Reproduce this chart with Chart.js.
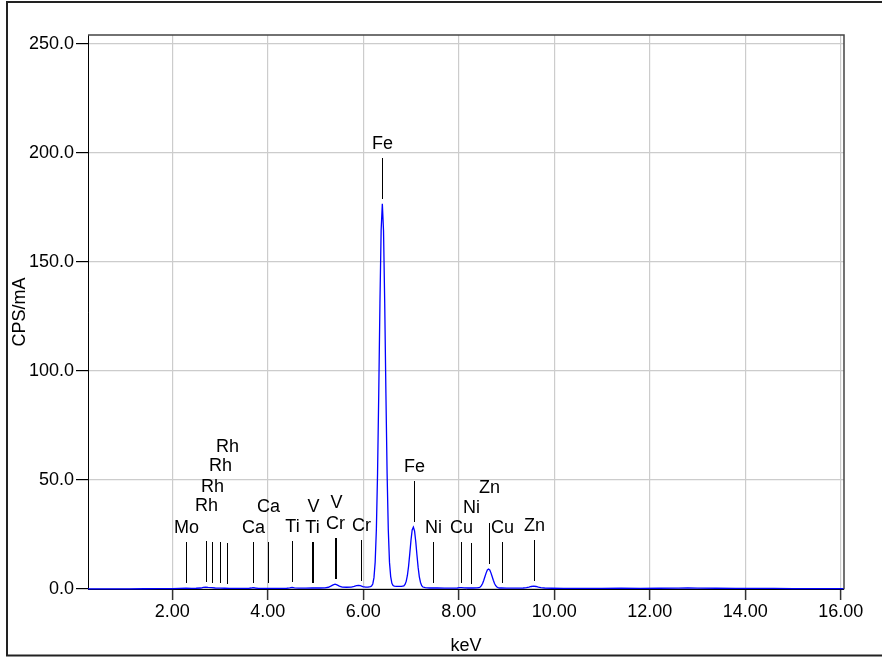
<!DOCTYPE html>
<html>
<head>
<meta charset="utf-8">
<script src="https://cdn.jsdelivr.net/npm/chart.js@4.4.1/dist/chart.umd.min.js"></script>
<style>
  html, body { margin: 0; padding: 0; background: #fff; }
  canvas { display: block; }
</style>
</head>
<body>
<canvas id="spectrum" width="882" height="657"></canvas>
<script>
// spectrum: energy (keV) and intensity (CPS/mA)
const energyKeV = [
  0.235, 0.5, 0.8, 1.1, 1.4, 1.7, 2.0, 2.15, 2.29, 2.4, 2.5,
  2.6, 2.65, 2.7, 2.75, 2.83, 2.9, 3.0, 3.1, 3.2, 3.35, 3.5,
  3.6, 3.65, 3.69, 3.74, 3.8, 4.01, 4.2, 4.4, 4.46, 4.51, 4.56, 4.65, 4.8, 4.93, 5.1, 5.2,
  5.27, 5.32, 5.37, 5.41, 5.45, 5.5, 5.56, 5.65, 5.75, 5.81, 5.86, 5.9, 5.94, 5.99, 6.05, 6.1, 6.15,
  6.175, 6.2, 6.225, 6.25, 6.275, 6.3, 6.325, 6.35, 6.375, 6.4, 6.425, 6.45, 6.475, 6.5, 6.525, 6.55, 6.575, 6.6, 6.625, 6.65,
  6.7, 6.75, 6.8, 6.85,
  6.875, 6.9, 6.925, 6.95, 6.975, 7.0, 7.025, 7.05, 7.075, 7.1, 7.125, 7.15, 7.175, 7.2, 7.225, 7.25, 7.3,
  7.4, 7.47, 7.55, 7.7, 7.85, 7.97, 8.02, 8.06, 8.11, 8.2, 8.3, 8.38,
  8.425, 8.45, 8.475, 8.5, 8.525, 8.55, 8.575, 8.6, 8.625, 8.65, 8.675, 8.7, 8.725, 8.75, 8.775, 8.8, 8.825, 8.85,
  8.9, 9.0, 9.2, 9.35, 9.42, 9.47, 9.52, 9.57, 9.62, 9.67, 9.72, 9.8, 9.95, 10.2,
  10.6, 11.0, 11.4, 11.8, 12.2, 12.6, 12.8, 13.0, 13.4, 13.8, 14.2, 14.6, 15.0, 15.5, 16.07
];
const cpsPerMa = [
  0.05, 0.08, 0.1, 0.1, 0.12, 0.15, 0.2, 0.25, 0.35, 0.3, 0.35,
  0.45, 0.7, 0.85, 0.7, 0.6, 0.45, 0.4, 0.35, 0.3, 0.3, 0.3,
  0.3, 0.45, 0.6, 0.45, 0.3, 0.3, 0.3, 0.35, 0.5, 0.7, 0.5, 0.4, 0.4, 0.45, 0.45, 0.55,
  0.8, 1.3, 1.9, 2.2, 1.9, 1.3, 0.9, 0.8, 0.9, 1.2, 1.5, 1.6, 1.5, 1.1, 0.9, 0.9, 1.1,
  1.4, 2.3, 5.2, 12.3, 27.2, 53.1, 89.8, 131.1, 164.5, 176.6, 164.3, 131.0, 89.7, 53.0, 27.1, 12.2, 5.7, 2.6, 1.6, 1.3,
  1.2, 1.2, 1.2, 1.4,
  2.1, 3.5, 6.2, 10.5, 16.2, 22.3, 27.1, 28.4, 26.6, 21.8, 15.6, 9.9, 5.6, 3.0, 1.5, 0.9, 0.6,
  0.45, 0.5, 0.45, 0.4, 0.4, 0.45, 0.6, 0.65, 0.5, 0.45, 0.45, 0.5,
  0.6, 0.95, 1.55, 2.55, 4.0, 5.7, 7.4, 8.7, 9.15, 8.7, 7.4, 5.7, 4.0, 2.5, 1.5, 0.9, 0.6, 0.45,
  0.45, 0.4, 0.4, 0.45, 0.6, 0.85, 1.15, 1.3, 1.15, 0.85, 0.6, 0.45, 0.35, 0.3,
  0.3, 0.3, 0.35, 0.3, 0.35, 0.4, 0.45, 0.4, 0.35, 0.3, 0.3, 0.25, 0.2, 0.2, 0.15
];

// element line markers
const lineLabels = ['Mo', 'Rh', 'Rh', 'Rh', 'Rh', 'Ca', 'Ca', 'Ti', 'Ti', 'V', 'Cr', 'V', 'Cr',
                    'Fe', 'Fe', 'Ni', 'Cu', 'Ni', 'Zn', 'Cu', 'Zn'];
const lineEnergies = [2.29, 2.70, 2.83, 3.00, 3.14, 3.69, 4.01, 4.51, 4.93, 4.95, 5.41, 5.43, 5.95,
                      6.40, 7.06, 7.47, 8.05, 8.26, 8.64, 8.90, 9.57];

const xTickValues = [2, 4, 6, 8, 10, 12, 14, 16];
const yTickValues = [0, 50, 100, 150, 200, 250];

const FONT = '"Liberation Sans", Arial, sans-serif';

const framePlugin = {
    id: 'frame',
    afterDatasetsDraw(chart) {
        const {ctx, chartArea: a} = chart;
        ctx.save();
        ctx.strokeStyle = '#444';
        ctx.lineWidth = 1.5;
        ctx.beginPath();
        ctx.moveTo(a.left, a.top);
        ctx.lineTo(a.right, a.top);
        ctx.lineTo(a.right, a.bottom);
        ctx.stroke();
        // outer border
        ctx.strokeStyle = '#222';
        ctx.lineWidth = 2;
        ctx.strokeRect(7, 2, 900, 653.5);
        ctx.restore();
    }
};

const markerPlugin = {
    id: 'markers',
    afterDatasetsDraw(chart) {
        const {ctx, scales: {x, y}} = chart;
        ctx.save();
        ctx.font = '18px ' + FONT;
        ctx.textAlign = 'center';
        ctx.textBaseline = 'middle';
        ctx.fillStyle = '#000';
        ctx.strokeStyle = '#000';
        ctx.lineWidth = 1;
        const placed = [];
        const hits = b => placed.some(p => b.x0 < p.x1 && b.x1 > p.x0 && b.y0 < p.y1 && b.y1 > p.y0);
        lineLabels.forEach((label, i) => {
            const e = lineEnergies[i];
            // highest point of the spectrum under the marker
            let peak = 0;
            energyKeV.forEach((k, j) => {
                if (Math.abs(k - e) <= 0.03) peak = Math.max(peak, cpsPerMa[j]);
            });
            const px = Math.round(x.getPixelForValue(e)) + 0.5;
            const bottom = Math.round(y.getPixelForValue(peak) - 5);
            const top = bottom - 41;
            ctx.beginPath();
            ctx.moveTo(px, bottom);
            ctx.lineTo(px, top);
            ctx.stroke();

            // stack the label upward until it clears earlier labels
            const half = ctx.measureText(label).width / 2 + 0.5;
            let cy = top - 14;
            while (hits({x0: px - half, x1: px + half, y0: cy - 6, y1: cy + 6})) cy -= 20.5;
            ctx.fillText(label, px, cy);
            placed.push({x0: px - half, x1: px + half, y0: cy - 6, y1: top - 3});
        });
        ctx.restore();
    }
};

const ctx = document.getElementById('spectrum').getContext('2d');
new Chart(ctx, {
    type: 'scatter',
    data: {
        datasets: [{
            data: energyKeV.map((e, i) => ({x: e, y: cpsPerMa[i]})),
            showLine: true,
            borderColor: '#0000ff',
            borderWidth: 1.3,
            pointRadius: 0,
            tension: 0,
            clip: 3
        }]
    },
    options: {
        responsive: false,
        animation: false,
        layout: {padding: {left: 0, top: 35, right: 38, bottom: 0}},
        plugins: {legend: {display: false}, tooltip: {enabled: false}},
        scales: {
            x: {
                type: 'linear',
                min: 0.235,
                max: 16.07,
                afterBuildTicks: scale => { scale.ticks = xTickValues.map(v => ({value: v})); },
                afterFit: scale => { scale.height = 68; },
                ticks: {
                    color: '#000',
                    font: {family: FONT, size: 18},
                    padding: 1,
                    maxRotation: 0,
                    callback: v => v.toFixed(2)
                },
                grid: {color: '#cccccc', lineWidth: 1.2, tickColor: '#333', tickLength: 11, tickWidth: 1.5},
                border: {display: true, color: '#000', width: 1},
                title: {display: true, text: 'keV', color: '#000',
                        font: {family: FONT, size: 18}, padding: {top: 0, bottom: 0}}
            },
            y: {
                min: 0,
                max: 254,
                afterBuildTicks: scale => { scale.ticks = yTickValues.map(v => ({value: v})); },
                afterFit: scale => { scale.width = 88; },
                ticks: {
                    color: '#000',
                    font: {family: FONT, size: 18},
                    padding: 2,
                    callback: v => v.toFixed(1)
                },
                grid: {color: '#cccccc', lineWidth: 1.2, tickColor: '#000', tickLength: 12},
                border: {display: true, color: '#000', width: 1},
                title: {display: true, text: 'CPS/mA', color: '#000',
                        font: {family: FONT, size: 18}, padding: {top: 9, bottom: 0}}
            }
        }
    },
    plugins: [framePlugin, markerPlugin]
});
</script>
</body>
</html>
